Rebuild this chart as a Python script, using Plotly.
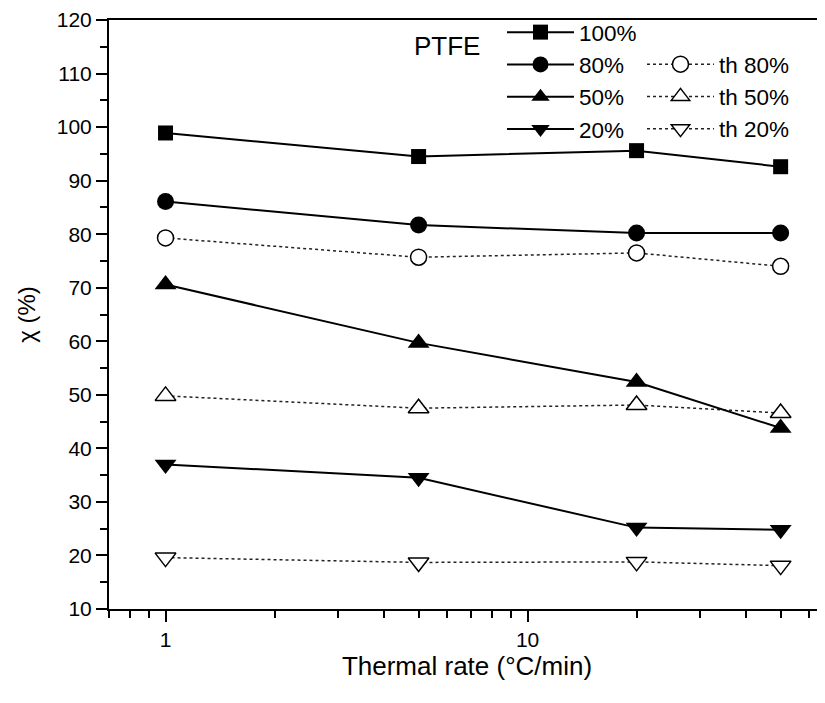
import plotly.graph_objects as go
import math

rates = [1, 5, 20, 50]
s100 = [98.9, 94.5, 95.6, 92.6]
s80 = [86.1, 81.7, 80.2, 80.2]
s50 = [70.6, 59.7, 52.4, 43.8]
s20 = [37.0, 34.5, 25.2, 24.8]
th80 = [79.3, 75.7, 76.5, 74.0]
th50 = [49.8, 47.5, 48.1, 46.6]
th20 = [19.6, 18.7, 18.8, 18.1]

y_ticks = [10, 20, 30, 40, 50, 60, 70, 80, 90, 100, 110, 120]
x_ticks = [1, 10]
x_minor = [0.7, 0.8, 0.9, 2, 3, 4, 5, 6, 7, 8, 9, 20, 30, 40, 50, 60]

W, H = 825, 703
OFF = 8  # page body offset
FONT = "Liberation Sans, Arial, sans-serif"

fig = go.Figure()

def solid(name, y, symbol, size, rank):
    fig.add_trace(go.Scatter(
        x=rates, y=y, name=name, mode="lines+markers", legend="legend",
        legendrank=rank,
        line=dict(color="black", width=2),
        marker=dict(symbol=symbol, size=size, color="black",
                    line=dict(color="black", width=0))))

def dotted(name, y, symbol, size, rank):
    fig.add_trace(go.Scatter(
        x=rates, y=y, name=name, mode="lines+markers", legend="legend2",
        legendrank=rank,
        line=dict(color="#222", width=1.5, dash="dot"),
        marker=dict(symbol=symbol, size=size, color="white",
                    line=dict(color="black", width=1.5))))

dotted("th 80%", th80, "circle", 16, 1)
dotted("th 50%", th50, "triangle-up", 18, 2)
dotted("th 20%", th20, "triangle-down", 18, 3)
solid("100%", s100, "square", 15, 1)
solid("80%", s80, "circle", 17, 2)
solid("50%", s50, "triangle-up", 19, 3)
solid("20%", s20, "triangle-down", 19, 4)

# target screen coordinates of plot area
left, right, top, bottom = 109, 825, 20, 609
l, r, t, b = left - OFF, right - OFF, top - OFF, bottom - OFF

def cx(px):
    return (px - OFF) / W

def cy(py):
    return 1 - (py - OFF) / H

fig.update_layout(
    width=W, height=H,
    margin=dict(l=l, r=W - r, t=t, b=H - b, autoexpand=False),
    paper_bgcolor="white", plot_bgcolor="white",
    font=dict(family=FONT, color="black", size=21),
    legend=dict(xref="container", yref="container",
                x=cx(502), y=cy(11), xanchor="left", yanchor="top",
                font=dict(size=22.5), itemwidth=67, bgcolor="rgba(0,0,0,0)",
                traceorder="normal", tracegroupgap=0),
    legend2=dict(xref="container", yref="container",
                 x=cx(642), y=cy(43), xanchor="left", yanchor="top",
                 font=dict(size=22.5), itemwidth=67, bgcolor="rgba(0,0,0,0)",
                 traceorder="normal", tracegroupgap=0),
    xaxis=dict(
        type="log", range=[math.log10(0.698), math.log10(66.3)],
        tickvals=x_ticks, ticktext=[str(v) for v in x_ticks],
        ticks="outside", ticklen=11, tickwidth=2, tickcolor="black",
        showline=True, linewidth=2, linecolor="black", mirror=True,
        showgrid=False, zeroline=False,
        tickfont=dict(size=21),
        minor=dict(tickvals=x_minor, ticks="outside", ticklen=7,
                   tickwidth=2, tickcolor="black", showgrid=False),
        title=dict(text="Thermal rate (°C/min)", font=dict(size=26), standoff=5),
    ),
    yaxis=dict(
        range=[10, 120], tickvals=y_ticks,
        ticks="outside", ticklen=11, tickwidth=2, tickcolor="black",
        showline=True, linewidth=2, linecolor="black",
        showgrid=False, zeroline=False,
        tickfont=dict(size=21),
        minor=dict(dtick=5, ticks="outside", ticklen=7, tickwidth=2,
                   tickcolor="black", showgrid=False),
        title=dict(text="χ (%)", font=dict(size=24), standoff=14),
    ),
    annotations=[dict(text="PTFE", xref="paper", yref="paper",
                      x=(412 - left) / (right - left),
                      y=(bottom - 46) / (bottom - top),
                      xanchor="left", yanchor="middle", showarrow=False,
                      font=dict(size=26))],
)

fig.write_html("out.html")
